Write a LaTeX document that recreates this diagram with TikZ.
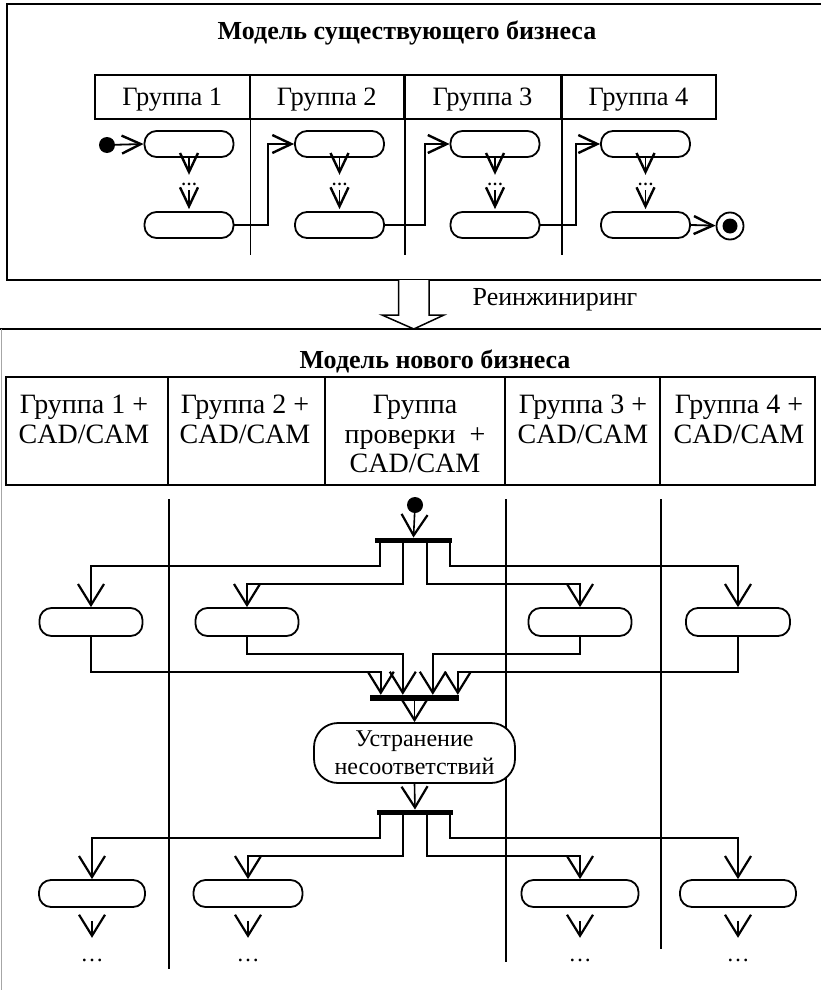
\documentclass[tikz,border=0pt]{standalone}
\usepackage{fontspec}
\setmainfont{Liberation Serif}
\usetikzlibrary{arrows.meta}

\begin{document}
\begin{tikzpicture}[x=1pt,y=-1pt,
  frame/.style={line width=2.4pt},
  lane/.style={line width=1.5pt},
  hdr/.style={draw, line width=1.8pt, inner sep=0pt},
  hdrtext/.style={inner sep=0pt, align=center, font=\fontsize{28}{29.5}\selectfont},
  act/.style={draw, line width=1.8pt, rounded corners=12pt, fill=white,
    minimum width=#1, minimum height=26pt, inner sep=0pt},
  act/.default=89pt,
  bar/.style={fill=black, inner sep=0pt, minimum height=5.5pt},
  startdot/.style={circle, fill=black, inner sep=0pt, minimum size=16pt},
  flowS/.style={line width=1.8pt, -{Straight Barb[length=19pt,width=18pt,line width=2.4pt]}},
  flowL/.style={line width=1.6pt, -{Straight Barb[length=21pt,width=26pt,line width=2.2pt]}},
  smalldots/.style={inner sep=0pt, text height=2pt, text depth=0pt, font=\fontsize{16}{18}\selectfont\bfseries},
  moredots/.style={inner sep=0pt, text height=2pt, text depth=0pt, font=\fontsize{23}{25}\selectfont},
  titlefont/.style={inner sep=0pt, font=\fontsize{26}{30}\selectfont\bfseries},
]
\useasboundingbox (0,0) rectangle (820,990);

% ---------- existing business ----------
\draw[frame] (830,4) -- (7,4) -- (7,280) -- (830,280);
\node[titlefont, anchor=base] (t1) at (407,40) {Модель существующего бизнеса};

\begin{scope}[every node/.append style={font=\fontsize{26.5}{30}\selectfont, text height=17.5pt, text depth=0pt}]
\node[hdr, minimum width=154.5pt, minimum height=44pt] (h1) at (172.25,97) {Группа 1};
\node[hdr, minimum width=154.5pt, minimum height=44pt] (h2) at (326.75,97) {Группа 2};
\node[hdr, minimum width=157pt, minimum height=44pt] (h3) at (482.5,97) {Группа 3};
\node[hdr, minimum width=155pt, minimum height=44pt] (h4) at (638.5,97) {Группа 4};
\end{scope}

% lane separators
\draw[lane] (h1.north east) -- (h1.north east |- 0,255);
\draw[lane] (h2.north east) -- (h2.north east |- 0,255);
\draw[lane] (h3.north east) -- (h3.north east |- 0,255);

% activities
\node[act] (a11) at (189,144) {};
\node[act] (a12) at (189,225) {};
\node[act] (a21) at (339.5,144) {};
\node[act] (a22) at (339.5,225) {};
\node[act] (a31) at (495,144) {};
\node[act] (a32) at (495,225) {};
\node[act] (a41) at (645.5,144) {};
\node[act] (a42) at (645.5,225) {};

\node[startdot] (s1) at (107,145) {};
\node[circle, draw, line width=1.8pt, minimum size=27pt, inner sep=0pt] (f1) at (730,226) {};
\fill (f1.center) circle (7.5pt);

\node[smalldots, anchor=base] (e1) at (189,185) {…};
\node[smalldots, anchor=base] (e2) at (339.5,185) {…};
\node[smalldots, anchor=base] (e3) at (495,185) {…};
\node[smalldots, anchor=base] (e4) at (645.5,185) {…};

\draw[flowS] (s1) -- (a11.west);
\foreach \i in {1,2,3,4}{
  \draw[flowS, shorten >=8pt] (a\i1.south) -- (e\i.north);
  \draw[flowS, shorten <=5pt, shorten >=2pt] (e\i.south) -- (a\i2.north);
}
\draw[flowS] (a12.east) -- (268,225) |- (a21.west);
\draw[flowS] (a22.east) -- (425,225) |- (a31.west);
\draw[flowS] (a32.east) -- (576,225) |- (a41.west);
\draw[flowS] (a42.east) -- (f1);

% ---------- reengineering ----------
\draw[line width=1.5pt, fill=white] (398.5,280) -- (398.5,315) -- (382,315) -- (413.8,329)
  -- (444,315) -- (429,315) -- (429,280);
\node[inner sep=0pt, font=\fontsize{26}{30}\selectfont] (re) at (555,300) {Реинжиниринг};

% ---------- new business ----------
\draw[frame] (-5,329) -- (830,329);
\draw[line width=1.5pt, gray!70] (1.5,329) -- (1.5,995);
\node[titlefont, anchor=base] (t2) at (435,368) {Модель нового бизнеса};

\node[hdr, minimum width=162pt, minimum height=108pt] (g1) at (87,431) {};
\node[hdr, minimum width=157pt, minimum height=108pt] (g2) at (246.5,431) {};
\node[hdr, minimum width=180pt, minimum height=108pt] (g3) at (415,431) {};
\node[hdr, minimum width=155pt, minimum height=108pt] (g4) at (582.5,431) {};
\node[hdr, minimum width=155pt, minimum height=108pt] (g5) at (737.5,431) {};

\node[hdrtext, anchor=north] (l1) at (84,395) {Группа 1 +\\CAD/CAM};
\node[hdrtext, anchor=north] (l2) at (245,395) {Группа 2 +\\CAD/CAM};
\node[hdrtext, anchor=north] (l3) at (415,395) {Группа\\проверки~ +\\CAD/CAM};
\node[hdrtext, anchor=north] (l4) at (583,395) {Группа 3 +\\CAD/CAM};
\node[hdrtext, anchor=north] (l5) at (739,395) {Группа 4 +\\CAD/CAM};

% lane separators
\draw[lane] (g1.south east |- 0,499) -- (g1.south east |- 0,969);
\draw[lane] (g3.south east |- 0,499) -- (g3.south east |- 0,962);
\draw[lane] (g4.south east |- 0,499) -- (g4.south east |- 0,949);

% fork
\node[startdot] (s2) at (415,505) {};
\node[bar, minimum width=77pt] (fork1) at (413.5,540.5) {};
\draw[flowL] (s2) -- (fork1.north);

\node[act=103pt, minimum height=28pt] (b1) at (91,622) {};
\node[act=103pt, minimum height=28pt] (b2) at (247,622) {};
\node[act=103pt, minimum height=28pt] (b3) at (580,622) {};
\node[act=104pt, minimum height=28pt] (b4) at (738,622) {};

\draw[flowL] ([xshift=5pt]fork1.south west) |- (b1.north |- 0,566) -- (b1.north);
\draw[flowL] ([xshift=28pt]fork1.south west) |- (b2.north |- 0,584) -- (b2.north);
\draw[flowL] ([xshift=-25pt]fork1.south east) |- (b3.north |- 0,584) -- (b3.north);
\draw[flowL] ([xshift=-2pt]fork1.south east) |- (b4.north |- 0,566) -- (b4.north);

% join
\node[bar, minimum width=89pt, minimum height=6pt] (join) at (414.5,698) {};
\coordinate (j1) at ([xshift=11pt]join.north west);
\coordinate (j2) at ([xshift=33pt]join.north west);
\coordinate (j3) at ([xshift=63pt]join.north west);
\coordinate (j4) at ([xshift=88pt]join.north west);
\draw[flowL] (b1.south) |- (j1 |- 0,672) -- (j1);
\draw[flowL] (b2.south) |- (j2 |- 0,654) -- (j2);
\draw[flowL] (b3.south) |- (j3 |- 0,654) -- (j3);
\draw[flowL] (b4.south) |- (j4 |- 0,672) -- (j4);

\node[draw, line width=1.8pt, rounded corners=24pt, fill=white, minimum width=201pt,
  minimum height=60pt, inner sep=0pt, align=center, font=\fontsize{24}{28}\selectfont]
  (fix) at (414.5,753) {Устранение\\несоответствий};
\draw[flowL] (join.south) -- (fix.north);

% second fork
\node[bar, minimum width=76pt] (fork2) at (415,812.5) {};
\draw[flowL] (fix.south) -- (fork2.north);

\node[act=106pt, minimum height=27pt] (c1) at (92,893.5) {};
\node[act=109pt, minimum height=27pt] (c2) at (248,893.5) {};
\node[act=117pt, minimum height=27pt] (c3) at (580,893.5) {};
\node[act=116pt, minimum height=27pt] (c4) at (738,893.5) {};

\draw[flowL] ([xshift=3pt]fork2.south west) |- (c1.north |- 0,838) -- (c1.north);
\draw[flowL] ([xshift=26pt]fork2.south west) |- (c2.north |- 0,856) -- (c2.north);
\draw[flowL] ([xshift=-26pt]fork2.south east) |- (c3.north |- 0,856) -- (c3.north);
\draw[flowL] ([xshift=-3pt]fork2.south east) |- (c4.north |- 0,838) -- (c4.north);

\node[moredots, anchor=base] (d1) at (92,961) {…};
\node[moredots, anchor=base] (d2) at (248,961) {…};
\node[moredots, anchor=base] (d3) at (580,961) {…};
\node[moredots, anchor=base] (d4) at (738,961) {…};
\foreach \i in {1,2,3,4}{
  \draw[flowL, shorten <=13pt, shorten >=21pt] (c\i.south) -- (d\i.north);
}
\end{tikzpicture}
\end{document}
